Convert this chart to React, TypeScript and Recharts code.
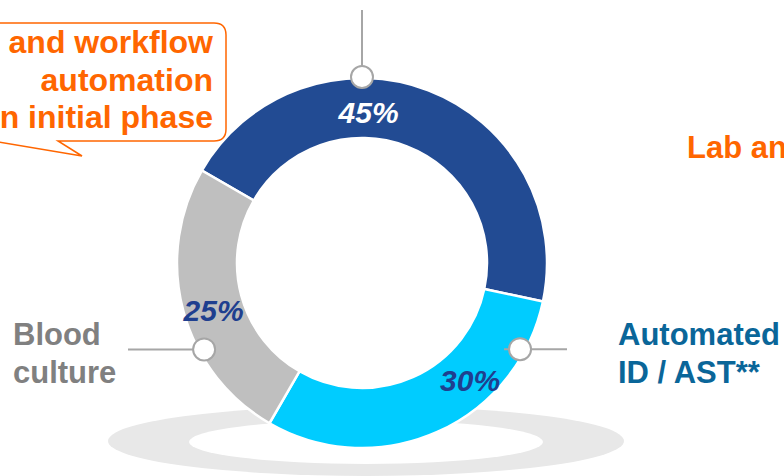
import React from 'react';
import { PieChart, Pie, Cell } from 'recharts';

const W = 784;
const H = 476;

// slices, clockwise from the top-left boundary
const segments = ['Lab and workflow automation', 'Automated ID / AST**', 'Blood culture'];
const shares = [45, 30, 25];
const shareLabels = ['45%', '30%', '25%'];

const COLORS = ['#224B93', '#00CCFF', '#BFBFBF'];
const LABEL_COLORS = ['#FFFFFF', '#1F3F8F', '#1F3F8F'];

// where each % label sits on the ring: [angle in degrees, radius]
const LABEL_POS: [number, number][] = [
  [87.5, 150],
  [-47.5, 160],
  [198, 156],
];

const CX = 362;
const CY = 263;
const INNER = 125;
const OUTER = 185;
const RAD = Math.PI / 180;

const FONT = '"Liberation Sans", Arial, sans-serif';
const ORANGE = '#FF6600';
const CALLOUT = '#A6A6A6';

const chartData = segments.map((name, i) => ({ name, value: shares[i], label: shareLabels[i] }));

function polar(angle: number, r: number) {
  return { x: CX + r * Math.cos(-angle * RAD), y: CY + r * Math.sin(-angle * RAD) };
}

const renderLabel = (props: any) => {
  const i = props.index;
  const [a, r] = LABEL_POS[i];
  const p = polar(a, r);
  return (
    <text
      key={i}
      x={p.x}
      y={p.y + 10}
      textAnchor="middle"
      fill={LABEL_COLORS[i]}
      fontFamily={FONT}
      fontSize={30}
      fontWeight="bold"
      fontStyle="italic"
    >
      {chartData[i].label}
    </text>
  );
};

// callout markers sitting on the outer edge of the ring
const top = polar(90, 186);
const left = polar(208.7, 180);
const right = polar(-28.6, 180);

export default function App() {
  return (
    <div style={{ position: 'absolute', left: 0, top: 0, width: W, height: H, background: '#fff', overflow: 'hidden' }}>
      {/* floor shadow */}
      <svg width={W} height={H} style={{ position: 'absolute', left: 0, top: 0 }}>
        <ellipse cx={366} cy={441} rx={258} ry={35} fill="#E8E8E8" />
        <ellipse cx={366} cy={442} rx={177} ry={22} fill="#FFFFFF" />
      </svg>

      <div style={{ position: 'absolute', left: 0, top: 0 }}>
        <PieChart width={W} height={H} margin={{ top: 0, right: 0, bottom: 0, left: 0 }}>
          <Pie
            data={chartData}
            dataKey="value"
            nameKey="name"
            cx={CX}
            cy={CY}
            innerRadius={INNER}
            outerRadius={OUTER}
            startAngle={150}
            endAngle={-210}
            stroke="#FFFFFF"
            strokeWidth={2.5}
            label={renderLabel}
            labelLine={false}
            isAnimationActive={false}
          >
            {chartData.map((_, i) => (
              <Cell key={i} fill={COLORS[i]} />
            ))}
          </Pie>
        </PieChart>
      </div>

      {/* callouts and category text */}
      <svg width={W} height={H} style={{ position: 'absolute', left: 0, top: 0, pointerEvents: 'none' }}>
        <line x1={top.x} y1={10} x2={top.x} y2={top.y} stroke={CALLOUT} strokeWidth={2} />
        <circle cx={top.x} cy={top.y} r={11} fill="#fff" stroke={CALLOUT} strokeWidth={2} />

        <line x1={128} y1={left.y} x2={left.x} y2={left.y} stroke={CALLOUT} strokeWidth={2} />
        <circle cx={left.x} cy={left.y} r={11} fill="#fff" stroke={CALLOUT} strokeWidth={2} />

        <line x1={right.x - 16} y1={right.y} x2={567} y2={right.y} stroke={CALLOUT} strokeWidth={2} />
        <circle cx={right.x} cy={right.y} r={11} fill="#fff" stroke={CALLOUT} strokeWidth={2} />

        {/* speech bubble */}
        <path
          d="M -20 23 H 214 Q 226 23 226 35 V 129 Q 226 141 214 141 H 58 L 82 156 L -20 139 Z"
          fill="#fff"
          stroke={ORANGE}
          strokeWidth={1.5}
        />
        <g fontFamily={FONT} fontSize={32} fontWeight="bold" fill={ORANGE} textAnchor="end">
          <text x={213} y={53}>and workflow</text>
          <text x={213} y={91}>automation</text>
          <text x={213} y={128}>n initial phase</text>
        </g>

        {/* runs off the right edge, as in the source slide */}
        <text x={687} y={158} fontFamily={FONT} fontSize={31} fontWeight="bold" fill={ORANGE}>
          Lab an
        </text>

        <g fontFamily={FONT} fontSize={31} fontWeight="bold" fill="#808080">
          <text x={13} y={345}>Blood</text>
          <text x={13} y={383}>culture</text>
        </g>

        <g fontFamily={FONT} fontSize={31} fontWeight="bold" fill="#0A6699">
          <text x={618} y={345}>Automated</text>
          <text x={618} y={383}>ID / AST**</text>
        </g>
      </svg>
    </div>
  );
}
